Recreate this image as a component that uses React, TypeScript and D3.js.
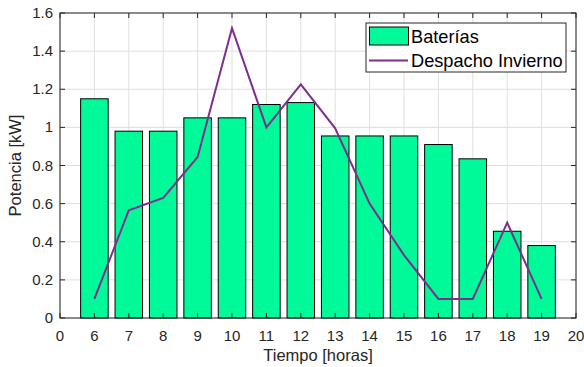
import React from "react";
import * as d3 from "d3";

const hours = [6, 7, 8, 9, 10, 11, 12, 13, 14, 15, 16, 17, 18, 19];
const baterias = [1.15, 0.98, 0.98, 1.05, 1.05, 1.12, 1.13, 0.955, 0.955, 0.955, 0.91, 0.835, 0.455, 0.38];
const despacho = [0.1, 0.565, 0.63, 0.845, 1.52, 1.0, 1.225, 0.995, 0.6, 0.33, 0.1, 0.1, 0.5, 0.1];
const xTicks = [5, 6, 7, 8, 9, 10, 11, 12, 13, 14, 15, 16, 17, 18, 19, 20];
const xTickLabels = ["0", "6", "7", "8", "9", "10", "11", "12", "13", "14", "15", "16", "17", "18", "19", "20"];
const yTicks = [0, 0.2, 0.4, 0.6, 0.8, 1, 1.2, 1.4, 1.6];
const seriesNames = ["Baterías", "Despacho Invierno"];

export default function App() {
  const W = 584, H = 367;
  const L = 60, R = 576, T = 13, B = 318;
  const x = d3.scaleLinear().domain([5, 20]).range([L, R]);
  const y = d3.scaleLinear().domain([0, 1.6]).range([B, T]);
  const bw = x(0.8) - x(0);
  const line = d3.line<number>().x((_, i) => x(hours[i])).y((d) => y(d));
  const axisColor = "#262626";
  const font = "'Liberation Sans', Arial, sans-serif";
  const tickLen = 5;
  return (
    <svg width={W} height={H} style={{ position: "absolute", left: 0, top: 0, background: "#fff" }} fontFamily={font}>
      <rect x={0} y={0} width={W} height={H} fill="#fff" />
      {/* grid */}
      {xTicks.map((t) => (
        <line key={"gx" + t} x1={x(t)} x2={x(t)} y1={T} y2={B} stroke="#dfdfdf" strokeWidth={1} />
      ))}
      {yTicks.map((t) => (
        <line key={"gy" + t} x1={L} x2={R} y1={y(t)} y2={y(t)} stroke="#dfdfdf" strokeWidth={1} />
      ))}
      {/* bars */}
      {hours.map((h, i) => (
        <rect key={"b" + h} x={x(h) - bw / 2} y={y(baterias[i])} width={bw} height={B - y(baterias[i])}
          fill="#00FA9A" stroke="#000" strokeWidth={1} />
      ))}
      {/* line */}
      <path d={line(despacho) || ""} fill="none" stroke="#7E2F8E" strokeWidth={2} strokeLinejoin="miter" />
      {/* axes box */}
      <rect x={L} y={T} width={R - L} height={B - T} fill="none" stroke={axisColor} strokeWidth={1} />
      {xTicks.map((t) => (
        <g key={"tx" + t}>
          <line x1={x(t)} x2={x(t)} y1={B} y2={B - tickLen} stroke={axisColor} />
          <line x1={x(t)} x2={x(t)} y1={T} y2={T + tickLen} stroke={axisColor} />
        </g>
      ))}
      {yTicks.map((t) => (
        <g key={"ty" + t}>
          <line x1={L} x2={L + tickLen} y1={y(t)} y2={y(t)} stroke={axisColor} />
          <line x1={R} x2={R - tickLen} y1={y(t)} y2={y(t)} stroke={axisColor} />
        </g>
      ))}
      {/* tick labels */}
      {xTicks.map((t, i) => (
        <text key={"lx" + t} x={x(t)} y={341} textAnchor="middle" fontSize={15} fill={axisColor}>
          {xTickLabels[i]}
        </text>
      ))}
      {yTicks.map((t) => (
        <text key={"ly" + t} x={L - 7} y={y(t) + 5} textAnchor="end" fontSize={15} fill={axisColor}>
          {d3.format("~g")(t)}
        </text>
      ))}
      {/* axis labels */}
      <text x={(L + R) / 2} y={361} textAnchor="middle" fontSize={16.5} fill={axisColor}>Tiempo [horas]</text>
      <text transform={`translate(21,${(T + B) / 2}) rotate(-90)`} textAnchor="middle" fontSize={16.5} fill={axisColor}>Potencia [kW]</text>
      {/* legend */}
      <rect x={366} y={23} width={200} height={49} fill="#fff" stroke={axisColor} strokeWidth={1} />
      <rect x={369.5} y={27} width={39} height={18} fill="#00FA9A" stroke="#000" strokeWidth={1} />
      <text x={411} y={42.5} fontSize={18.2} fill="#000">{seriesNames[0]}</text>
      <line x1={369} x2={408} y1={60.5} y2={60.5} stroke="#7E2F8E" strokeWidth={2} />
      <text x={411} y={66.5} fontSize={18.2} fill="#000">{seriesNames[1]}</text>
    </svg>
  );
}
